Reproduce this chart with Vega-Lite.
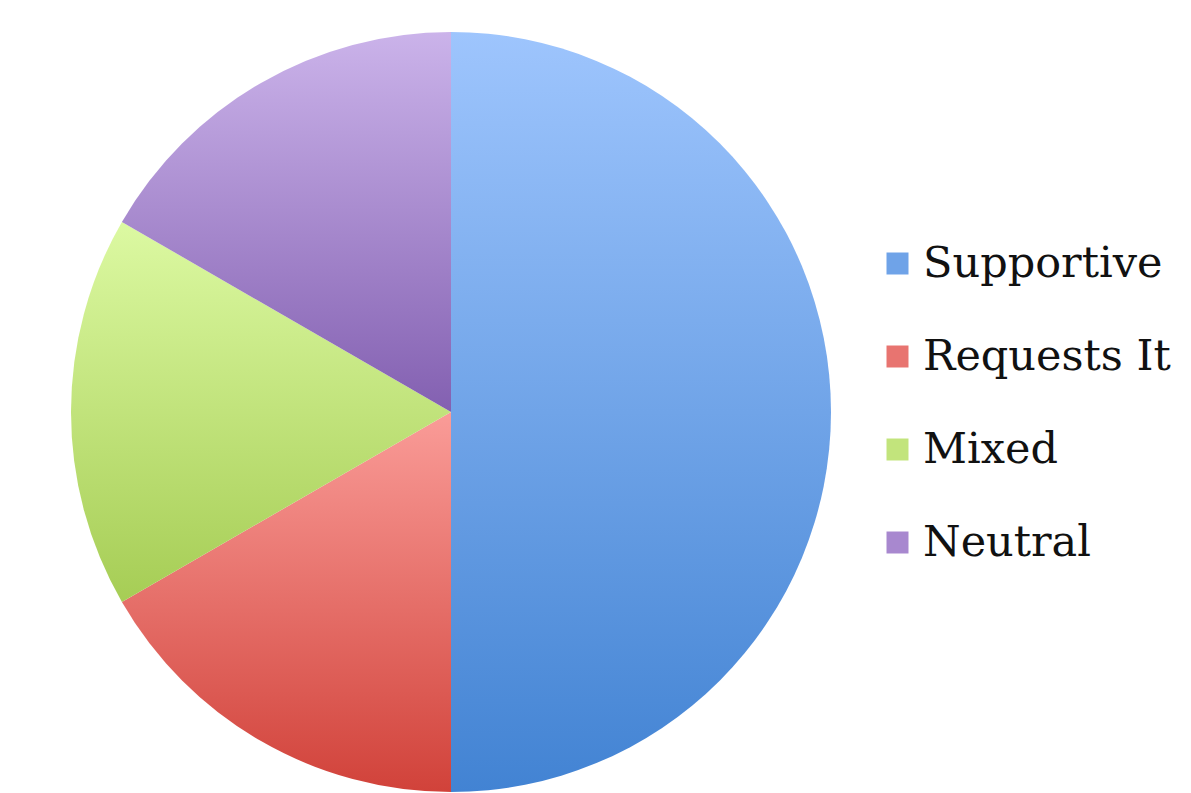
{
  "$schema": "https://vega.github.io/schema/vega-lite/v6.json",
  "autosize": {"type": "none"},
  "padding": {"left": 71, "top": 32, "right": 360, "bottom": 1},
  "width": 760,
  "height": 760,
  "background": "white",
  "title": {
    "text": "Questions",
    "font": "Lato",
    "fontWeight": "bold",
    "fontSize": 58,
    "color": "#111111",
    "anchor": "middle",
    "frame": "group",
    "baseline": "bottom",
    "offset": 14,
    "dx": -11
  },
  "data": {
    "values": [
      {"category": "Supportive", "value": 3},
      {"category": "Requests It", "value": 1},
      {"category": "Mixed", "value": 1},
      {"category": "Neutral", "value": 1}
    ]
  },
  "mark": {"type": "arc", "outerRadius": 380, "strokeWidth": 0},
  "encoding": {
    "theta": {"field": "value", "type": "quantitative", "stack": true},
    "order": {"field": "value", "sort": "descending"},
    "color": {
      "field": "category",
      "type": "nominal",
      "sort": ["Supportive", "Requests It", "Mixed", "Neutral"],
      "condition": [
        {"test": "datum.category === 'Supportive'", "value": {"gradient": "linear", "x1": 0, "y1": 0, "x2": 0, "y2": 1, "stops": [{"offset": 0, "color": "#9ec5fd"}, {"offset": 1, "color": "#4283d3"}]}},
        {"test": "datum.category === 'Requests It'", "value": {"gradient": "linear", "x1": 0, "y1": 0, "x2": 0, "y2": 1, "stops": [{"offset": 0, "color": "#fa9c98"}, {"offset": 1, "color": "#d1423a"}]}},
        {"test": "datum.category === 'Mixed'", "value": {"gradient": "linear", "x1": 0, "y1": 0, "x2": 0, "y2": 1, "stops": [{"offset": 0, "color": "#dcf9a2"}, {"offset": 1, "color": "#a6cd55"}]}},
        {"test": "datum.category === 'Neutral'", "value": {"gradient": "linear", "x1": 0, "y1": 0, "x2": 0, "y2": 1, "stops": [{"offset": 0, "color": "#cbb3ea"}, {"offset": 1, "color": "#8360b1"}]}}
      ],
      "scale": {
        "domain": ["Supportive", "Requests It", "Mixed", "Neutral"],
        "range": ["#6fa3e8", "#e87470", "#c2e47c", "#a888cf"]
      },
      "legend": {
        "title": null,
        "orient": "none",
        "legendX": 805,
        "legendY": 210,
        "symbolType": "square",
        "symbolSize": 484,
        "symbolStrokeWidth": 0,
        "labelFont": "DejaVu Serif",
        "labelFontSize": 43,
        "labelColor": "#111111",
        "labelOffset": 4,
        "labelLimit": 400,
        "rowPadding": 49
      }
    }
  },
  "config": {"view": {"stroke": null}}
}
